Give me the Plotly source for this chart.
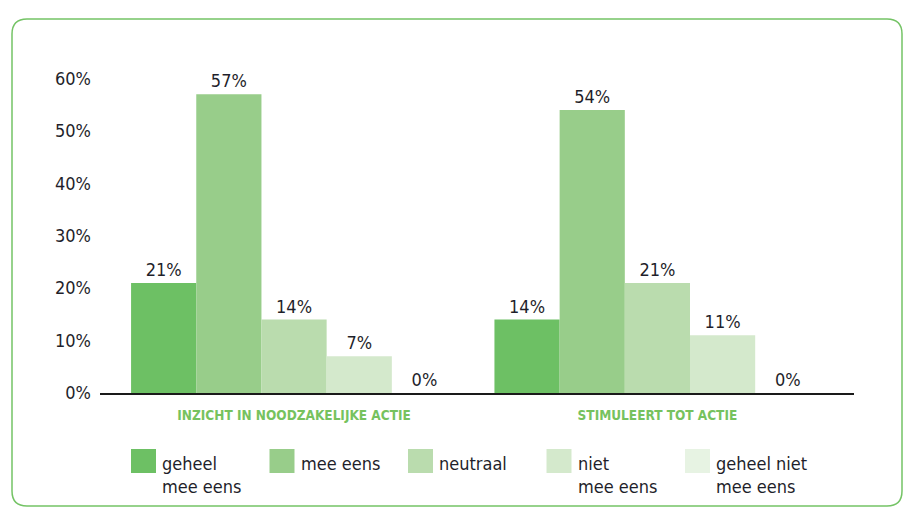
import plotly.graph_objects as go

categories = ["INZICHT IN NOODZAKELIJKE ACTIE", "STIMULEERT TOT ACTIE"]
series_names = ["geheel mee eens", "mee eens", "neutraal", "niet mee eens", "geheel niet mee eens"]
legend_labels = ["geheel<br>mee eens", "mee eens", "neutraal", "niet<br>mee eens", "geheel niet<br>mee eens"]
geheel_mee_eens = [21, 14]
mee_eens = [57, 54]
neutraal = [14, 21]
niet_mee_eens = [7, 11]
geheel_niet_mee_eens = [0, 0]
series_values = [geheel_mee_eens, mee_eens, neutraal, niet_mee_eens, geheel_niet_mee_eens]
colors = ["#6dc064", "#98cd8a", "#badcae", "#d4e9cc", "#e7f3e3"]
y_ticks = [0, 10, 20, 30, 40, 50, 60]

FONT = "Liberation Sans Narrow, DejaVu Sans Condensed, Arial Narrow, sans-serif"
TXT = "#1f1f2b"
W, H = 915, 519
L, R, T, B = 100, 854, 68, 393  # plot area in px

def px(x):
    return (x - L) / (R - L)

def py(y):
    return (B - y) / (B - T)

fig = go.Figure()
for name, vals, col in zip(series_names, series_values, colors):
    fig.add_trace(go.Bar(
        x=list(range(len(categories))), y=vals, name=name,
        marker=dict(color=col, line=dict(width=0)),
        text=[f"{v}%" for v in vals], textposition="outside",
        textfont=dict(family=FONT, size=18, color=TXT),
        cliponaxis=False, showlegend=False,
    ))

shapes = []
annotations = []
# manual legend
for i, (lab, col) in enumerate(zip(legend_labels, colors)):
    x0 = 131 + i * 138.5
    shapes.append(dict(type="rect", xref="paper", yref="paper",
                       x0=px(x0), x1=px(x0 + 25), y0=py(473), y1=py(449),
                       fillcolor=col, line=dict(width=0)))
    annotations.append(dict(xref="paper", yref="paper", x=px(x0 + 29), y=py(451),
                            xanchor="left", yanchor="top", align="left",
                            text=lab, showarrow=False,
                            font=dict(family=FONT, size=18, color=TXT)))

# rounded border
bx0, by0, bx1, by1, r = 12, 19, 902, 506, 15
def P(x, y):
    return f"{px(x)},{py(y)}"
path = (f"M {P(bx0 + r, by0)} L {P(bx1 - r, by0)} Q {P(bx1, by0)} {P(bx1, by0 + r)} "
        f"L {P(bx1, by1 - r)} Q {P(bx1, by1)} {P(bx1 - r, by1)} "
        f"L {P(bx0 + r, by1)} Q {P(bx0, by1)} {P(bx0, by1 - r)} "
        f"L {P(bx0, by0 + r)} Q {P(bx0, by0)} {P(bx0 + r, by0)} Z")
shapes.append(dict(type="path", xref="paper", yref="paper", path=path,
                   line=dict(color="#74c365", width=1.5), layer="below"))

fig.update_layout(
    width=W, height=H,
    margin=dict(l=L, r=W - R, t=T, b=H - B, pad=0),
    paper_bgcolor="white", plot_bgcolor="white",
    barmode="group", bargap=0.103, bargroupgap=0,
    font=dict(family=FONT, color=TXT),
    shapes=shapes, annotations=annotations,
    xaxis=dict(
        tickmode="array", tickvals=list(range(len(categories))), ticktext=[f"<b>{c}</b>" for c in categories],
        range=[-0.534, 1.541], showline=True, linecolor="#1a1a1a", linewidth=1.5,
        showgrid=False, zeroline=False, ticks="", ticklabelstandoff=9,
        tickfont=dict(family=FONT, size=13.5, color="#76c25e"),
    ),
    yaxis=dict(
        range=[0, 62], tickvals=y_ticks, ticktext=[f"{v}%" for v in y_ticks],
        showgrid=False, zeroline=False, showline=False, ticks="",
        ticklabelstandoff=8, tickfont=dict(family=FONT, size=18, color=TXT),
    ),
)

fig.write_html("out.html", config={"displayModeBar": False},
               post_script="document.body.style.margin='0';document.body.style.padding='0';")
